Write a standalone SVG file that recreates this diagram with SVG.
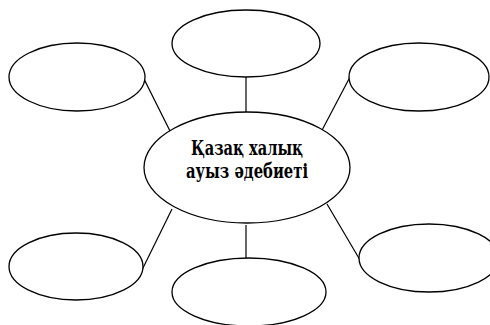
<svg xmlns="http://www.w3.org/2000/svg" width="490" height="325" viewBox="0 0 490 325">
<style>
.n{fill:#fff;stroke:#000;stroke-width:1.3}
.c line{stroke:#000;stroke-width:1.2}
.t{font-family:"DejaVu Serif Condensed","DejaVu Serif","Liberation Serif",serif;font-weight:bold;font-size:20px;fill:#000;text-anchor:middle}
</style>
<rect width="490" height="325" fill="#fff"/>
<g class="c" id="connectors">
<line x1="246" y1="77" x2="246" y2="112"/>
<line x1="143" y1="77" x2="172" y2="135"/>
<line x1="350" y1="77" x2="320" y2="134"/>
<line x1="142" y1="270" x2="172" y2="209"/>
<line x1="246" y1="225" x2="246" y2="258"/>
<line x1="327" y1="204" x2="360" y2="260"/>
</g>
<g id="center"><ellipse class="n" cx="247" cy="167.5" rx="103" ry="55.5"/>
<text class="t" x="247" y="154.5" textLength="112" lengthAdjust="spacingAndGlyphs">Қазақ халық</text>
<text class="t" x="247" y="177.5" textLength="122" lengthAdjust="spacingAndGlyphs">ауыз әдебиеті</text></g>
<g id="top"><ellipse class="n" cx="246" cy="43.5" rx="74" ry="33.5"/></g>
<g id="topleft"><ellipse class="n" cx="77" cy="77" rx="68" ry="34"/></g>
<g id="topright"><ellipse class="n" cx="419" cy="77" rx="70" ry="34"/></g>
<g id="bottomleft"><ellipse class="n" cx="76" cy="266.5" rx="67" ry="33.5"/></g>
<g id="bottom"><ellipse class="n" cx="249" cy="292" rx="77" ry="34"/></g>
<g id="bottomright"><ellipse class="n" cx="429" cy="258" rx="70" ry="34"/></g>
</svg>
